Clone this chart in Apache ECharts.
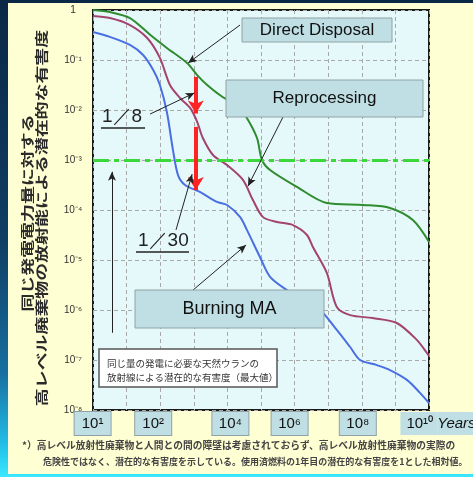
<!DOCTYPE html>
<html><head><meta charset="utf-8">
<script src="https://cdn.jsdelivr.net/npm/echarts@6.0.0/dist/echarts.min.js"></script>
<style>
html,body{margin:0;padding:0;width:473px;height:477px;overflow:hidden;}
body{background:linear-gradient(to bottom,#0a2846 0%,#0f3d63 50%,#176f9f 78%,#22bde6 93%,#3ae8ff 100%);}
#panel{position:absolute;left:8px;top:3px;width:465px;height:471px;background:#FFFFD4;}
#chart{position:absolute;left:0;top:0;width:473px;height:477px;}
</style></head>
<body><div id="panel"></div><div id="chart"></div>
<script>
// ---- data ----
const directYears  = [1, 3.2, 12.6, 50, 158, 630, 1260, 2450, 7400, 1.95e4, 3.8e4, 7.6e4, 1.07e5, 1.86e5, 1.17e6, 9.1e6, 1.1e8, 6.9e8, 3.3e9, 1e10];
const directValues = [1, 0.91, 0.69, 0.32, 0.174, 0.087, 0.05, 0.032, 0.018, 0.0126, 0.0069, 0.00275, 0.001, 6.3e-4, 2.9e-4, 1.38e-4, 1.26e-4, 1.1e-4, 6.3e-5, 2.3e-5];

const reprocYears  = [1, 3.2, 12.6, 41, 98, 195, 389, 776, 1260, 1860, 3720, 9800, 2.9e4, 5.75e4, 1.15e5, 3.0e5, 8.9e5, 2.3e6, 3.5e6, 9.1e6, 1.8e7, 4.5e7, 2.1e8, 1.1e9, 4.4e9, 8.7e9, 1e10];
const reprocValues = [0.76, 0.69, 0.5, 0.275, 0.11, 0.0316, 0.0174, 0.011, 0.0058, 0.00275, 0.00126, 7.9e-4, 4.0e-4, 1.58e-4, 7.2e-5, 5.75e-5, 5.0e-5, 3.2e-5, 1.82e-5, 5.5e-6, 1.15e-6, 7.9e-7, 6.9e-7, 5.5e-7, 2.5e-7, 1.38e-7, 1.2e-7];

const burnYears  = [1, 3.2, 12.6, 31, 62, 98, 158, 240, 339, 550, 1510, 4900, 9800, 2.4e4, 3.8e4, 9.3e4, 1.86e5, 5.9e5, 1.78e6, 5.75e6, 1.8e7, 4.5e7, 8.9e7, 2.8e8, 6.9e8, 2.2e9, 5.4e9, 1e10];
const burnValues = [0.363, 0.29, 0.2, 0.126, 0.063, 0.0316, 0.0091, 0.00158, 5.0e-4, 3.16e-4, 2.3e-4, 1.45e-4, 1.26e-4, 7.2e-5, 4.0e-5, 1.15e-5, 4.6e-6, 2.5e-6, 1.58e-6, 1e-6, 4.0e-7, 1.82e-7, 1e-7, 7.9e-8, 6.3e-8, 4.0e-8, 2.2e-8, 1.38e-8];

const uraniumLevel = 1e-3;          // natural uranium reference level
const compareYear = 1150;           // year where the 1/8 and 1/30 ratios are shown
const ratioArrow1 = [0.046, 0.0085];
const ratioArrow2 = [0.0046, 2.5e-4];

const xDecades = [1, 10, 100, 1e3, 1e4, 1e5, 1e6, 1e7, 1e8, 1e9, 1e10];
const xTickYears  = [10, 100, 1e4, 1e6, 1e8, 1e10];
const xTickLabels = ['10¹', '10²', '10⁴', '10⁶', '10⁸', '10¹⁰'];
const xUnit = 'Years';
const yTickValues = [1e-8, 1e-7, 1e-6, 1e-5, 1e-4, 1e-3, 1e-2, 1e-1, 1];
const yTickLabels = ['10⁻⁸', '10⁻⁷', '10⁻⁶', '10⁻⁵', '10⁻⁴', '10⁻³', '10⁻²', '10⁻¹', '1'];

const seriesNames = ['Direct Disposal', 'Reprocessing', 'Burning MA'];
const yTitle1 = '同じ発電電力量に対する';
const yTitle2 = '高レベル廃棄物の放射能による潜在的な有害度';
const uraniumNote1 = '同じ量の発電に必要な天然ウランの';
const uraniumNote2 = '放射線による潜在的な有害度（最大値）';
const footnote1 = '*）高レベル放射性廃棄物と人間との間の障壁は考慮されておらず、高レベル放射性廃棄物の実際の';
const footnote2 = '危険性ではなく、潜在的な有害度を示している。使用済燃料の1年目の潜在的な有害度を1とした相対値。';

// ---- layout / styling ----
const zip = (xs, ys) => xs.map((x, i) => [x, ys[i]]);
const xLabelShift = [-34, -7, 3, -5, -4];   // px offset of label boxes from their tick
const lastPad = 38;
const sameDecade = (a, b) => Math.abs(Math.log10(a) - Math.log10(b)) < 1e-6;
// labels split across two coincident axes so their wide boxes do not hide each other
const labelsA = xTickYears.filter((v, i) => i % 2 === 0);
const labelsB = xTickYears.filter((v, i) => i % 2 === 1);

const gridColor = '#A9A9A9';
const boxFill = '#BFDFE4', boxStroke = '#8FA2A6';
const rich = {
  b: {backgroundColor: boxFill, borderColor: boxStroke, borderWidth: 1, width: 36, height: 23, lineHeight: 23,
      align: 'center', fontSize: 15, color: '#111', fontFamily: 'Liberation Sans'},
  yb: {backgroundColor: boxFill, height: 23, lineHeight: 23, fontSize: 15, color: '#111',
       fontFamily: 'Liberation Sans', padding: [0, 0, 0, 6]},
  yi: {backgroundColor: boxFill, height: 23, lineHeight: 23, fontSize: 15, color: '#111', fontStyle: 'italic',
       fontFamily: 'Liberation Sans', padding: [0, 20, 0, 0]}
};
xLabelShift.concat([lastPad / 2]).forEach(s => {
  const w = Math.abs(2 * s);
  rich['sp' + w] = {width: w, height: 1, fontSize: 1};
});

function xFormatter(v) {
  const i = xTickYears.findIndex(t => sameDecade(t, v));
  if (i < 0) return '';
  if (i === xTickYears.length - 1) return '{sp' + lastPad + '| }{yb|' + xTickLabels[i] + ' }{yi|' + xUnit + '}';
  const s = xLabelShift[i], w = Math.abs(2 * s);
  if (w === 0) return '{b|' + xTickLabels[i] + '}';
  return s < 0 ? '{b|' + xTickLabels[i] + '}{sp' + w + '| }' : '{sp' + w + '| }{b|' + xTickLabels[i] + '}';
}
function yFormatter(v) {
  const i = yTickValues.findIndex(t => sameDecade(t, v));
  return i < 0 ? '' : yTickLabels[i];
}

const blackArrow = {color: '#222', width: 1, type: 'solid'};
function arrow(a, b, style) {
  return [{coord: a, lineStyle: style}, {coord: b}];
}

const chart = echarts.init(document.getElementById('chart'), null, {renderer: 'canvas'});
const jpFont = '"Noto Sans CJK JP"';
function box(x, y, w, h, text, size) {
  return [
    {type: 'rect', z: 100, shape: {x, y, width: w, height: h}, style: {fill: boxFill, stroke: boxStroke, lineWidth: 1}},
    {type: 'text', z: 101, x: x + w / 2, y: y + h / 2,
     style: {text, font: size + 'px "Liberation Sans"', fill: '#111', align: 'center', verticalAlign: 'middle',
             textAlign: 'center', textVerticalAlign: 'middle'}}
  ];
}
function label(x, y, text, opts) {
  return Object.assign({type: 'text', z: 101, x, y,
    style: Object.assign({text, fill: '#333', align: 'left', verticalAlign: 'middle',
                          textAlign: 'left', textVerticalAlign: 'middle'}, opts.style || {})}, opts.el || {});
}
function xAxisWith(labels, showSplit) {
  return {
    type: 'log', logBase: 10, min: 1, max: 1e10, position: 'bottom', gridIndex: 0,
    axisLine: {show: false},
    axisTick: {show: false, customValues: xDecades},
    axisLabel: {customValues: labels, formatter: xFormatter, margin: 2, rich,
                showMinLabel: true, showMaxLabel: true, hideOverlap: false},
    splitLine: {show: showSplit, lineStyle: {type: [4, 3], color: gridColor, width: 1}}
  };
}

const option = {
  animation: false,
  backgroundColor: 'transparent',
  grid: {left: 93, top: 10, right: 44, bottom: 67, show: true, backgroundColor: '#E6F9FA',
         borderColor: '#1a1a1a', borderWidth: 2, containLabel: false, outerBoundsMode: 'none'},
  xAxis: [xAxisWith(labelsA, true), xAxisWith(labelsB, false)],
  yAxis: {
    type: 'log', logBase: 10, min: 1e-8, max: 1,
    axisLine: {show: false},
    axisTick: {show: false, customValues: yTickValues},
    axisLabel: {customValues: yTickValues, formatter: yFormatter, margin: 20, align: 'center',
                fontSize: 10, color: '#333', fontFamily: 'Liberation Sans'},
    splitLine: {show: true, lineStyle: {type: [4, 3], color: gridColor, width: 1}}
  },
  series: [
    {name: seriesNames[0], type: 'line', data: zip(directYears, directValues), showSymbol: false, smooth: 0.3,
     lineStyle: {color: '#2E8B2E', width: 2}, z: 3},
    {name: seriesNames[1], type: 'line', data: zip(reprocYears, reprocValues), showSymbol: false, smooth: 0.3,
     lineStyle: {color: '#A3446F', width: 2}, z: 3},
    {name: seriesNames[2], type: 'line', data: zip(burnYears, burnValues), showSymbol: false, smooth: 0.3,
     lineStyle: {color: '#4A6FE3', width: 2}, z: 3},
    {type: 'line', data: [], z: 4,
     markLine: {silent: true, symbol: 'none', label: {show: false},
       lineStyle: {color: '#3AD83A', width: 3, type: [16, 5, 5, 5]},
       data: [[{coord: [1, uraniumLevel]}, {coord: [1e10, uraniumLevel]}]]}},
    {type: 'line', data: [], z: 5,
     markLine: {silent: true, symbol: ['none', 'arrow'], symbolSize: [12, 13], label: {show: false},
       lineStyle: {color: '#FF2424', width: 4, type: 'solid'},
       data: [
         arrow([compareYear, ratioArrow1[0]], [compareYear, ratioArrow1[1]]),
         arrow([compareYear, ratioArrow2[0]], [compareYear, ratioArrow2[1]])
       ]}},
    {type: 'line', data: [], z: 6,
     markLine: {silent: true, symbol: ['none', 'arrow'], symbolSize: [6, 9], label: {show: false},
       lineStyle: blackArrow,
       data: [
         arrow([2.37e4, 0.5], [676, 0.087], blackArrow),
         arrow([4.5e5, 0.0072], [4.1e4, 3.0e-4], blackArrow),
         arrow([946, 2.5e-6], [3.6e4, 2.0e-5], blackArrow),
         arrow([50, 0.0083], [1050, 0.022], blackArrow),
         arrow([295, 4e-5], [890, 5.2e-4], blackArrow),
         arrow([3.67, 3.5e-7], [3.67, 5.8e-4], blackArrow)
       ]}}
  ],
  graphic: [
    label(27, 213, yTitle1, {el: {rotation: Math.PI / 2, scaleX: 1.28, scaleY: 0.92},
      style: {font: 'bold 14px ' + jpFont, align: 'center', textAlign: 'center', fill: '#2a2a2a'}}),
    label(41, 218, yTitle2, {el: {rotation: Math.PI / 2, scaleX: 1.28, scaleY: 0.92},
      style: {font: 'bold 14px ' + jpFont, align: 'center', textAlign: 'center', fill: '#2a2a2a'}}),
    ...box(242, 18, 150, 24, seriesNames[0], 17),
    ...box(226, 80, 197, 37, seriesNames[1], 17),
    ...box(135, 290, 189, 38, seriesNames[2], 18),
    label(102, 117, '1／8', {style: {font: '19px "Liberation Sans"', fill: '#222'}}),
    {type: 'line', z: 101, shape: {x1: 101, y1: 128, x2: 145, y2: 128}, style: {stroke: '#222', lineWidth: 1.5}},
    label(138, 241, '1／30', {style: {font: '19px "Liberation Sans"', fill: '#222'}}),
    {type: 'line', z: 101, shape: {x1: 136, y1: 252, x2: 189, y2: 252}, style: {stroke: '#222', lineWidth: 1.5}},
    {type: 'rect', z: 100, shape: {x: 99, y: 349, width: 178, height: 38}, style: {fill: '#fff', stroke: '#555', lineWidth: 1.5}},
    label(107, 363, uraniumNote1, {style: {font: '9.5px ' + jpFont}}),
    label(107, 377, uraniumNote2, {style: {font: '9.5px ' + jpFont}}),
    label(22, 445, footnote1, {style: {font: 'bold 9.75px ' + jpFont, fill: '#444'}}),
    label(43, 462, footnote2, {style: {font: 'bold 9px ' + jpFont, fill: '#444'}})
  ]
};
chart.setOption(option);
</script>
</body></html>
